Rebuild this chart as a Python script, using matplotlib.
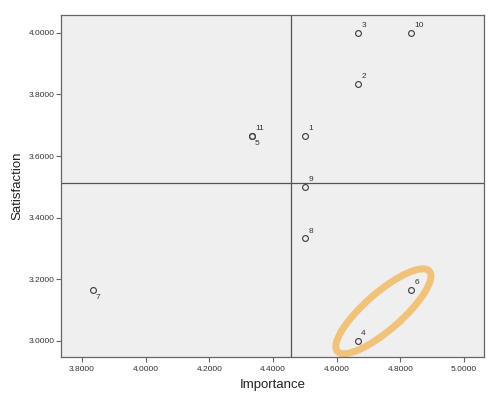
import numpy as np
import matplotlib
matplotlib.use("Agg")
import matplotlib.pyplot as plt
from matplotlib.patches import Ellipse
from matplotlib.transforms import ScaledTranslation

# case numbers and mean scores
case_ids = [1, 2, 3, 4, 5, 6, 7, 8, 9, 10, 11]
importance = [4.5, 4.6667, 4.6667, 4.6667, 4.3333, 4.8333, 3.8333, 4.5, 4.5, 4.8333, 4.3333]
satisfaction = [3.6667, 3.8333, 4.0, 3.0, 3.6667, 3.1667, 3.1667, 3.3333, 3.5, 4.0, 3.6667]

# reference lines (quadrant split)
importance_ref = 4.457
satisfaction_ref = 3.513

x_ticks = [3.8, 4.0, 4.2, 4.4, 4.6, 4.8, 5.0]
y_ticks = [3.0, 3.2, 3.4, 3.6, 3.8, 4.0]

# cases whose label sits below the marker
below_labels = [5, 7]
# cases circled in the annotation
circled = [4, 6]

plt.rcParams['font.family'] = ['Liberation Sans', 'DejaVu Sans']

fig = plt.figure(figsize=(5.03, 4.01), dpi=100)
ax = fig.add_axes([0.1213, 0.1097, 0.8409, 0.8529])
ax.set_facecolor('#efefef')

ax.set_xlim(3.734, 5.063)
ax.set_ylim(2.948, 4.058)

ax.axvline(importance_ref, color='#555555', linewidth=0.9, zorder=1)
ax.axhline(satisfaction_ref, color='#555555', linewidth=0.9, zorder=1)

ax.plot(importance, satisfaction, linestyle='none', marker='o', markersize=4.2,
        markerfacecolor='none', markeredgecolor='#444444', markeredgewidth=0.85, zorder=3)

for cid, xv, yv in zip(case_ids, importance, satisfaction):
    if cid in below_labels:
        ax.annotate(str(cid), (xv, yv), xytext=(2.2, -3.5), textcoords='offset points',
                    ha='left', va='top', fontsize=6, color='#333333')
    else:
        ax.annotate(str(cid), (xv, yv), xytext=(2.4, 2.7), textcoords='offset points',
                    ha='left', va='bottom', fontsize=6, color='#333333')

# orange ring around the circled cases, sized in inches around their midpoint
i_a = case_ids.index(circled[0])
i_b = case_ids.index(circled[1])
pa = ax.transData.transform((importance[i_a], satisfaction[i_a]))
pb = ax.transData.transform((importance[i_b], satisfaction[i_b]))
angle = np.degrees(np.arctan2(pb[1] - pa[1], pb[0] - pa[0]))
mx = (importance[i_a] + importance[i_b]) / 2
my = (satisfaction[i_a] + satisfaction[i_b]) / 2
ring = Ellipse((-0.01, 0.04), width=1.22, height=0.37, angle=angle - 3,
               fill=False, edgecolor='#f0c27a', linewidth=5,
               transform=fig.dpi_scale_trans + ScaledTranslation(mx, my, ax.transData),
               zorder=2)
ax.add_patch(ring)

ax.set_xticks(x_ticks)
ax.set_yticks(y_ticks)
ax.set_xticklabels([f"{t:.4f}" for t in x_ticks])
ax.set_yticklabels([f"{t:.4f}" for t in y_ticks])
ax.tick_params(axis='both', direction='out', length=3.5, width=0.8, color='#666666',
               labelsize=6, labelcolor='#333333')
ax.tick_params(axis='y', pad=1)
ax.tick_params(axis='x', pad=3)

for s in ax.spines.values():
    s.set_color('#666666')
    s.set_linewidth(0.9)

ax.set_xlabel("Importance", fontsize=9.5, color='#222222', labelpad=4.5)
ax.set_ylabel("Satisfaction", fontsize=9.5, color='#222222', labelpad=3.5)

fig.savefig("out.png", dpi=100)
